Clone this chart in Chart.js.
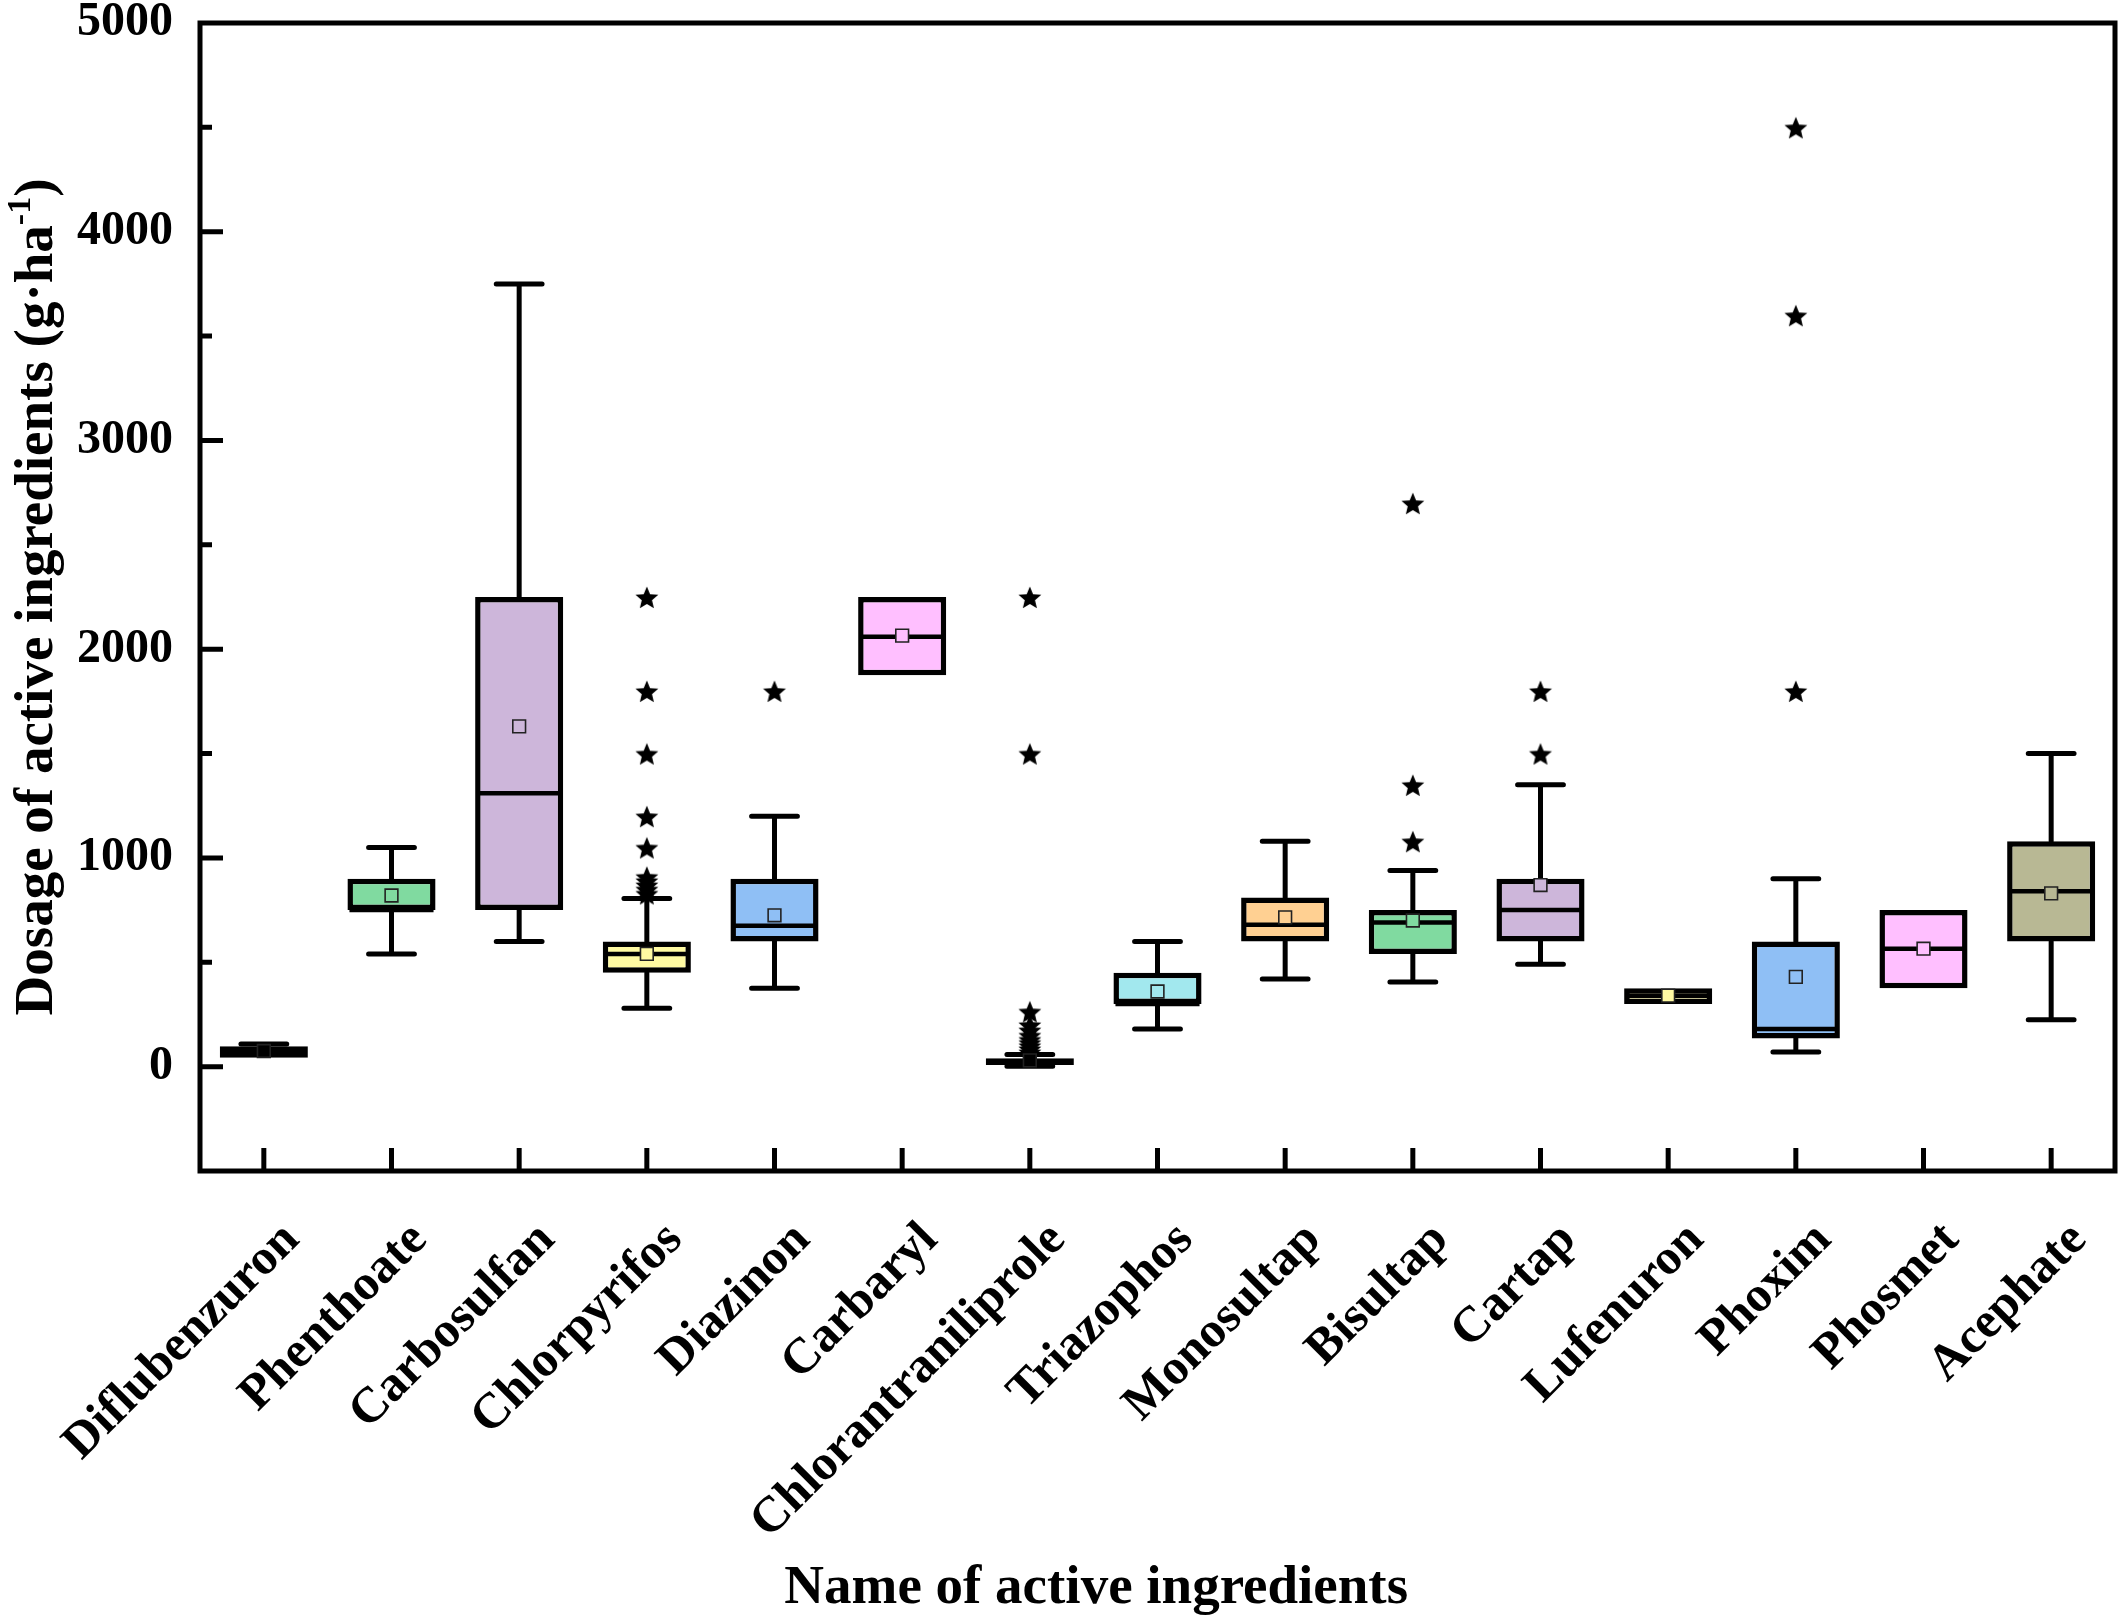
<!DOCTYPE html>
<html><head><meta charset="utf-8">
<script src="https://cdn.jsdelivr.net/npm/chart.js@4.4.0/dist/chart.umd.min.js"></script>
<style>html,body{margin:0;padding:0;background:#fff;}#wrap{width:2128px;height:1620px;position:relative;}</style>
</head><body><div id="wrap"><canvas id="c"></canvas></div>
<script>
const categories = ['Diflubenzuron','Phenthoate','Carbosulfan','Chlorpyrifos','Diazinon','Carbaryl','Chlorantraniliprole','Triazophos','Monosultap','Bisultap','Cartap','Lufenuron','Phoxim','Phosmet','Acephate'];
const whiskerLow  = [42, 540, 600, 280, 375, 1875, 2, 180, 420, 405, 490, 300, 70, 375, 225];
const q1          = [42, 750, 750, 450, 600, 1875, 8, 300, 600, 540, 600, 300, 135, 375, 600];
const median      = [75, 750, 1310, 540, 675, 2060, 22, 300, 680, 690, 750, 340, 180, 565, 840];
const q3          = [98, 900, 2250, 600, 900, 2250, 40, 450, 810, 750, 900, 375, 600, 750, 1080];
const whiskerHigh = [108, 1050, 3750, 805, 1200, 2250, 58, 600, 1080, 940, 1350, 375, 900, 750, 1500];
const means       = [75, 820, 1630, 540, 725, 2065, 30, 360, 715, 700, 870, 340, 430, 565, 830];
const outliers = [
  [], [], [],
  [830, 850, 870, 890, 910, 1050, 1200, 1500, 1800, 2250],
  [1800],
  [],
  [70, 85, 100, 115, 130, 150, 175, 200, 265, 1500, 2250],
  [], [],
  [1080, 1350, 2700],
  [1500, 1800],
  [],
  [1800, 3600, 4500],
  [], []
];
const boxColors = ['#FFD092','#80DAA0','#CDB6DA','#FFFAA2','#8FBFF5','#FFBFFF','#B8B894','#A2E8EE','#FFD092','#80DAA0','#CDB6DA','#FFFAA2','#8FBFF5','#FFBFFF','#B8B894'];
const meanFill = boxColors.map((c, i) => (i === 0 || i === 6) ? '#000' : c);
const yMin = -500, yMax = 5000, yStep = 500;
const yTitleMain = 'Dosage of active ingredients (g\u00B7ha';
const yTitleSup = '-1';
const yTitleEnd = ')';
const xTitle = 'Name of active ingredients';

const FONT = '"Liberation Serif", "Times New Roman", serif';

function makeStar(r) {
  const c = document.createElement('canvas');
  const s = Math.ceil(r * 2 + 2);
  c.width = s; c.height = s;
  const g = c.getContext('2d');
  g.fillStyle = '#000';
  g.beginPath();
  for (let k = 0; k < 10; k++) {
    const rr = k % 2 === 0 ? r : r * 0.45;
    const a = -Math.PI / 2 + k * Math.PI / 5;
    const px = s / 2 + rr * Math.cos(a), py = s / 2 + 1.5 + rr * Math.sin(a);
    if (k === 0) g.moveTo(px, py); else g.lineTo(px, py);
  }
  g.closePath(); g.fill();
  return c;
}
const star = makeStar(12);

const boxData = categories.map((c, i) => [q1[i], q3[i]]);
const outlierPoints = [];
categories.forEach((c, i) => outliers[i].forEach(v => outlierPoints.push({x: c, y: v})));

const boxPlugin = {
  id: 'boxExtras',
  beforeDatasetsDraw(chart) {
    const ctx = chart.ctx, ys = chart.scales.y;
    const meta = chart.getDatasetMeta(0);
    ctx.save();
    ctx.strokeStyle = '#000'; ctx.lineWidth = 5; ctx.lineCap = 'round';
    categories.forEach((c, i) => {
      const bar = meta.data[i];
      const x = bar.x, hw = bar.width * 0.26;
      const yl = ys.getPixelForValue(whiskerLow[i]), yq1 = ys.getPixelForValue(q1[i]);
      const yq3 = ys.getPixelForValue(q3[i]), yh = ys.getPixelForValue(whiskerHigh[i]);
      ctx.beginPath();
      if (whiskerLow[i] < q1[i]) { ctx.moveTo(x, yq1); ctx.lineTo(x, yl); ctx.moveTo(x - hw, yl); ctx.lineTo(x + hw, yl); }
      if (whiskerHigh[i] > q3[i]) { ctx.moveTo(x, yq3); ctx.lineTo(x, yh); ctx.moveTo(x - hw, yh); ctx.lineTo(x + hw, yh); }
      ctx.stroke();
    });
    ctx.restore();
  },
  afterDatasetDraw(chart, args) {
    if (args.index !== 0) return;
    const ctx = chart.ctx, ys = chart.scales.y;
    const meta = chart.getDatasetMeta(0);
    ctx.save();
    ctx.strokeStyle = '#000'; ctx.lineWidth = 4.5;
    categories.forEach((c, i) => {
      const bar = meta.data[i];
      const ym = ys.getPixelForValue(median[i]);
      ctx.beginPath();
      ctx.moveTo(bar.x - bar.width / 2 + 2, ym); ctx.lineTo(bar.x + bar.width / 2 - 2, ym);
      ctx.stroke();
    });
    ctx.restore();
  },
  afterDraw(chart) {
    const ctx = chart.ctx, a = chart.chartArea, ys = chart.scales.y, xs = chart.scales.x;
    ctx.save();
    ctx.strokeStyle = '#000'; ctx.lineWidth = 5; ctx.lineCap = 'butt';
    ctx.strokeRect(a.left, a.top, a.right - a.left, a.bottom - a.top);
    ctx.beginPath();
    for (let v = yMin + yStep; v < yMax; v += yStep) {
      const y = ys.getPixelForValue(v);
      const len = v % 1000 === 0 ? 23 : 12;
      ctx.moveTo(a.left, y); ctx.lineTo(a.left + len, y);
    }
    categories.forEach((c, i) => {
      const x = xs.getPixelForValue(i);
      ctx.moveTo(x, a.bottom); ctx.lineTo(x, a.bottom - 23);
    });
    ctx.stroke();
    // x title
    ctx.fillStyle = '#000';
    ctx.font = 'bold 55px ' + FONT;
    ctx.textAlign = 'center'; ctx.textBaseline = 'alphabetic';
    ctx.fillText(xTitle, a.left + (a.right - a.left) * 0.468, chart.height - 17);
    // y title
    ctx.translate(52, (a.top + a.bottom) / 2);
    ctx.rotate(-Math.PI / 2);
    ctx.textAlign = 'left';
    const fMain = 'bold 55px ' + FONT, fSup = 'bold 34px ' + FONT;
    ctx.font = fMain; const w1 = ctx.measureText(yTitleMain).width; const w3 = ctx.measureText(yTitleEnd).width;
    ctx.font = fSup; const w2 = ctx.measureText(yTitleSup).width;
    let x0 = -(w1 + w2 + w3) / 2;
    ctx.font = fMain; ctx.fillText(yTitleMain, x0, 0);
    ctx.font = fSup; ctx.fillText(yTitleSup, x0 + w1, -22);
    ctx.font = fMain; ctx.fillText(yTitleEnd, x0 + w1 + w2, 0);
    ctx.restore();
  }
};

new Chart(document.getElementById('c'), {
  data: {
    labels: categories,
    datasets: [
      {
        type: 'bar', data: boxData, backgroundColor: boxColors, borderColor: '#000', borderWidth: 5.5,
        borderSkipped: false, barPercentage: 0.69, categoryPercentage: 1, grouped: false, order: 3
      },
      {
        type: 'line', data: means, showLine: false, pointStyle: 'rect', pointRadius: 9,
        pointBackgroundColor: meanFill, pointBorderColor: '#222', pointBorderWidth: 1.6, order: 1
      },
      {
        type: 'line', data: outlierPoints, showLine: false, pointStyle: star, pointRadius: 12, order: 2
      }
    ]
  },
  options: {
    responsive: true, maintainAspectRatio: false, devicePixelRatio: 1, animation: false,
    layout: { padding: { top: 23, right: 7, left: 0, bottom: 0 } },
    plugins: { legend: { display: false }, tooltip: { enabled: false } },
    scales: {
      x: {
        type: 'category', offset: true,
        grid: { display: false, drawTicks: false }, border: { display: false },
        ticks: {
          autoSkip: false, maxRotation: 45, minRotation: 45, padding: 40, labelOffset: 28, color: '#000',
          font: { family: FONT, size: 50, weight: 'bold' }
        },
        afterFit(s) { s.height = 449; s.paddingLeft = 0; s.paddingRight = 0; }
      },
      y: {
        type: 'linear', min: yMin, max: yMax,
        grid: { display: false, drawTicks: false }, border: { display: false },
        ticks: {
          stepSize: yStep, autoSkip: false, padding: 27, color: '#000',
          font: { family: FONT, size: 48, weight: 'bold' },
          callback: v => (v % 1000 === 0 ? String(v) : '')
        },
        afterFit(s) { s.width = 200; s.paddingTop = 0; s.paddingBottom = 0; }
      }
    }
  },
  plugins: [boxPlugin]
});
</script>
</body></html>
